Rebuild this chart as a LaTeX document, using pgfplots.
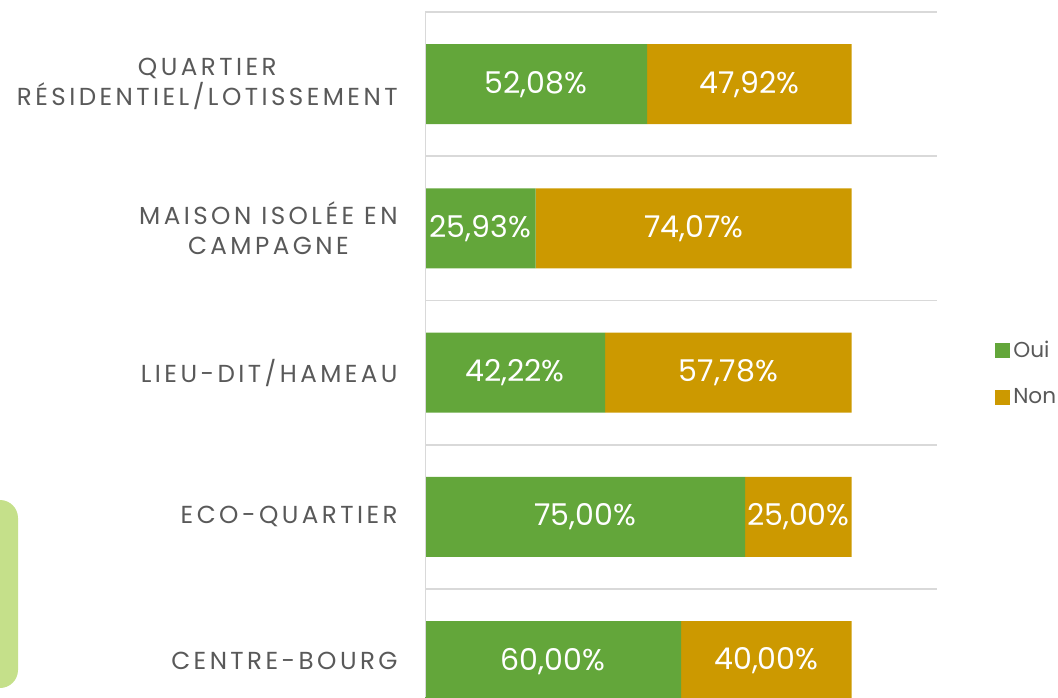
\documentclass[border=0pt]{standalone}
\usepackage{fontspec}
\setmainfont{Poppins}
\newfontfamily\labfont[LetterSpace=14]{Poppins}
\usepackage{pgfplots}
\pgfplotsset{compat=1.18}
\usepackage{pgfplotstable}
\definecolor{oui}{RGB}{99,166,58}
\definecolor{non}{RGB}{204,153,0}
\definecolor{labgray}{RGB}{89,89,89}
\definecolor{gridgray}{RGB}{217,217,217}
\definecolor{deco}{RGB}{197,224,138}

% y: 0 Centre-bourg ... 4 Quartier
\pgfplotstableread{
y oui non
0 60.00 40.00
1 75.00 25.00
2 42.22 57.78
3 25.93 74.07
4 52.08 47.92
}\datatable
% label positions (segment centres)
\pgfplotstableread{
y cx v
0 30.000 60.00
1 37.500 75.00
2 21.110 42.22
3 12.965 25.93
4 26.040 52.08
}\ouilabels
\pgfplotstableread{
y cx v
0 80.000 40.00
1 87.500 25.00
2 71.110 57.78
3 62.965 74.07
4 76.040 47.92
}\nonlabels

\begin{document}
\begin{tikzpicture}
\useasboundingbox (0,0) rectangle (529pt,348.5pt);
\fill[deco, rounded corners=9pt] (-20pt,4.5pt) rectangle (9pt,98.5pt);
\begin{axis}[
  at={(212.5pt,0pt)}, anchor=south west,
  scale only axis, width=256pt, height=342.5pt,
  xbar stacked, bar width=40pt,
  xmin=0, xmax=120, ymin=-0.249, ymax=4.5,
  axis line style={draw=none},
  xtick=\empty,
  ytick={0,1,2,3,4},
  yticklabels={CENTRE-BOURG, ECO-QUARTIER, LIEU-DIT/HAMEAU, {MAISON ISOLÉE EN\\CAMPAGNE}, {QUARTIER\\RÉSIDENTIEL/LOTISSEMENT}},
  yticklabel style={font=\labfont\fontsize{12.3}{15.2}\selectfont, text=labgray, align=center, anchor=east, inner sep=0pt, xshift=-13.5pt},
  major tick length=0pt,
  extra y ticks={0.5,1.5,2.5,3.5,4.5},
  extra y tick labels={},
  extra y tick style={grid=major, major grid style={gridgray, line width=0.9pt}},
  legend style={at={(1.113,0.4715)}, anchor=west, draw=none, fill=none,
    font=\fontsize{10.8}{12}\selectfont, text=labgray, row sep=11pt,
    legend cell align=left, inner sep=0pt, nodes={inner sep=1.5pt}},
  legend image code/.code={\fill[#1] (0pt,-3.75pt) rectangle (7.5pt,3.75pt);},
  clip=true,
]
\draw[gridgray, line width=0.9pt] (axis cs:0,-0.249) -- (axis cs:0,4.5);
\addplot[fill=oui, draw=none] table[x=oui, y=y] {\datatable};
\addplot[fill=non, draw=none] table[x=non, y=y] {\datatable};
\legend{Oui, Non}
\end{axis}
\begin{axis}[
  at={(212.5pt,0pt)}, anchor=south west,
  scale only axis, width=256pt, height=342.5pt,
  xmin=0, xmax=120, ymin=-0.249, ymax=4.5,
  hide axis, clip=false,
]
\addplot[draw=none, mark=none, nodes near coords, point meta=explicit,
  nodes near coords style={anchor=center, text=white, font=\fontsize{15}{15}\selectfont,
    /pgf/number format/.cd, fixed, fixed zerofill, precision=2, use comma, assume math mode=true},
  nodes near coords={\pgfmathprintnumber{\pgfplotspointmeta}\%}]
  table[x=cx, y=y, meta=v] {\ouilabels};
\addplot[draw=none, mark=none, nodes near coords, point meta=explicit,
  nodes near coords style={anchor=center, text=white, font=\fontsize{15}{15}\selectfont,
    /pgf/number format/.cd, fixed, fixed zerofill, precision=2, use comma, assume math mode=true},
  nodes near coords={\pgfmathprintnumber{\pgfplotspointmeta}\%}]
  table[x=cx, y=y, meta=v] {\nonlabels};
\end{axis}
\end{tikzpicture}
\end{document}
